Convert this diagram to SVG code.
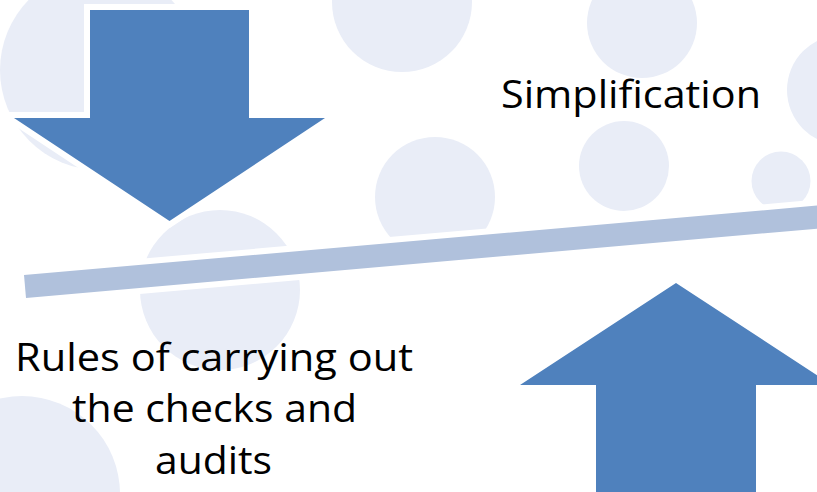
<svg xmlns="http://www.w3.org/2000/svg" width="817" height="492" viewBox="0 0 817 492">
  <style>
    .bub { fill: #E9EDF7; }
    .arrow { fill: #4F81BD; stroke: #FFFFFF; stroke-width: 12; stroke-linejoin: miter; paint-order: stroke; }
    .bar { fill: #B0C1DC; stroke: #FFFFFF; stroke-width: 12; paint-order: stroke; }
    .lbl { font-family: "Open Sans", "Noto Sans", sans-serif; font-size: 39px; fill: #000000; }
  </style>
  <rect x="0" y="0" width="817" height="492" fill="#FFFFFF"/>
  <g id="background">
    <circle class="bub" cx="100" cy="70" r="100"/>
    <circle class="bub" cx="402" cy="2" r="70"/>
    <circle class="bub" cx="642" cy="23" r="55"/>
    <circle class="bub" cx="842" cy="90" r="55"/>
    <circle class="bub" cx="624" cy="166" r="45"/>
    <circle class="bub" cx="781" cy="181" r="29.5"/>
    <circle class="bub" cx="435" cy="197" r="60"/>
    <circle class="bub" cx="220" cy="290" r="80"/>
    <circle class="bub" cx="22" cy="494" r="98"/>
  </g>
  <g id="connectors">
    <rect id="lever" class="bar" x="24" y="275" width="812" height="23" transform="rotate(-5 24 275)"/>
  </g>
  <g id="arrow-down">
    <polygon class="arrow" points="90,10 249,10 249,118 325,118 169.5,221 14,118 90,118"/>
  </g>
  <g id="arrow-up">
    <polygon class="arrow" points="676,283 832,385 756,385 756,500 596,500 596,385 520,385"/>
  </g>
  <g id="label-simplification">
    <text class="lbl" x="501" y="108" textLength="260" lengthAdjust="spacingAndGlyphs">Simplification</text>
  </g>
  <g id="label-rules">
    <text class="lbl" x="15" y="371" textLength="398" lengthAdjust="spacingAndGlyphs">Rules of carrying out</text>
    <text class="lbl" x="72" y="422" textLength="285" lengthAdjust="spacingAndGlyphs">the checks and</text>
    <text class="lbl" x="155" y="474" textLength="117" lengthAdjust="spacingAndGlyphs">audits</text>
  </g>
</svg>
